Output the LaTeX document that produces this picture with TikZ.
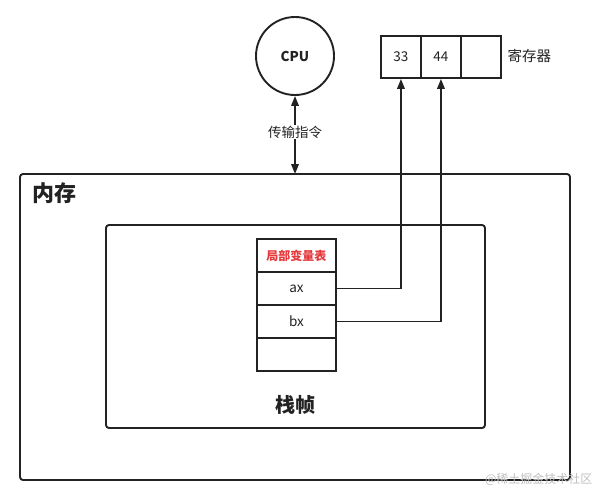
\documentclass[tikz,border=0pt]{standalone}
\usepackage{fontspec}
\setmainfont{Noto Sans CJK SC}
\usetikzlibrary{arrows.meta}
\definecolor{ink}{HTML}{222222}
\definecolor{redtxt}{HTML}{E5383B}
\begin{document}
\begin{tikzpicture}[x=1pt,y=-1pt,
  box/.style={draw=ink,line width=1.9pt},
  cell/.style={draw=ink,line width=1.9pt,minimum width=40pt,minimum height=42pt,inner sep=0pt,anchor=north west,font=\fontsize{13.5}{15}\selectfont,text=ink},
  row/.style={draw=ink,line width=1.9pt,minimum width=79pt,minimum height=33pt,inner sep=0pt,anchor=north west,font=\fontsize{13.5}{15}\selectfont,text=ink},
  conn/.style={draw=ink,line width=1.9pt},
  tip/.style={-{Triangle[length=10pt,width=7.5pt]}}
]
\useasboundingbox (0,0) rectangle (607,501);
% outer memory
\draw[box,rounded corners=3pt] (20,174) rectangle (570,480);
\coordinate (memtop) at (295,174);
\node[font=\fontsize{22}{26}\selectfont\bfseries,text=ink] (memlbl) at (54,193) {内存};
% inner frame
\draw[box,rounded corners=3pt] (106,225) rectangle (485,428);
\node[font=\fontsize{20}{24}\selectfont\bfseries,text=ink] (framelbl) at (295,405) {栈帧};
% CPU
\node[draw=ink,line width=1.9pt,circle,minimum size=78pt,inner sep=0pt,font=\fontsize{13.5}{15}\selectfont\bfseries,text=ink] (cpu) at (295,56) {CPU};
\draw[conn,{Triangle[length=10pt,width=7.5pt]}-{Triangle[length=10pt,width=7.5pt]}] (cpu.south) -- (memtop);
\node[fill=white,inner sep=1pt,font=\fontsize{13.5}{15}\selectfont,text=ink] (trans) at (295,132) {传输指令};
% registers
\node[cell] (r1) at (380,35) {33};
\node[cell] (r2) at (420,35) {44};
\node[cell] (r3) at (460,35) {};
\node[font=\fontsize{14.5}{16}\selectfont,text=ink,anchor=west] (reglbl) at (504,56) {寄存器};
% table
\node[row,font=\fontsize{12}{14}\selectfont\bfseries,text=redtxt] (hdr) at (256,238) {局部变量表};
\node[row] (ax) at (256,271) {ax};
\node[row] (bx) at (256,304) {bx};
\node[row] (empty) at (256,337) {};
% connectors
\draw[conn,tip] (ax.east) -| (r1.south);
\draw[conn,tip] (bx.east) -| (r2.south);
% watermark
\node[font=\fontsize{12}{14}\selectfont,text=black!25,anchor=east] (wm) at (596,479) {@稀土掘金技术社区};
\end{tikzpicture}
\end{document}
